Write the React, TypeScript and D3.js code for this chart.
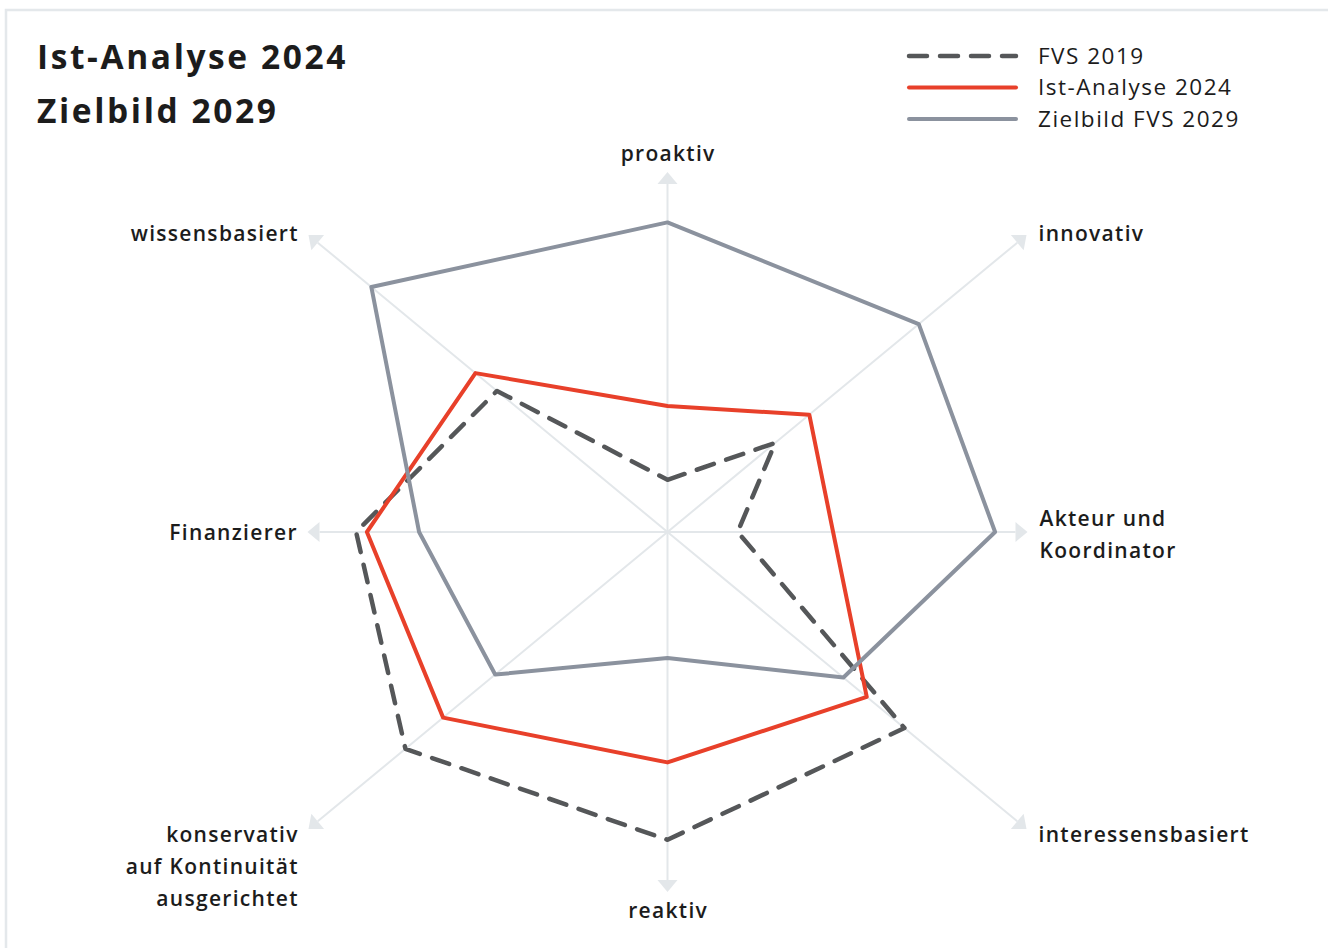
import * as d3 from "d3";

const categories = [
  "proaktiv",
  "innovativ",
  "Akteur und\nKoordinator",
  "interessensbasiert",
  "reaktiv",
  "konservativ\nauf Kontinuität\nausgerichtet",
  "Finanzierer",
  "wissensbasiert",
];

// values in % of the axis length
const fvs2019 = [14.5, 30, 19.5, 66, 85.5, 73, 86.5, 47.5];
const ist2024 = [35, 39.5, 46, 55.5, 64, 62.5, 83.5, 53.5];
const ziel2029 = [86, 70, 91, 49, 35, 48, 69, 82.5];

const seriesNames = ["FVS 2019", "Ist-Analyse 2024", "Zielbild FVS 2029"];
const titleLines = ["Ist-Analyse 2024", "Zielbild 2029"];

const W = 1328;
const H = 948;
const FONT = "'Open Sans', 'Noto Sans', sans-serif";

export default function App() {
  const cx = 667.5;
  const cy = 532;
  // the diagonals run to the corners of a 718 x 594 box, the straight axes are 360 long
  const straight = 360;
  const diag = { x: 359, y: 297 };

  const r = d3.scaleLinear().domain([0, 100]).range([0, 1]);

  const tip = (i: number) => {
    const a = (i * Math.PI) / 4;
    const s = Math.abs(Math.sin(a)) < 1e-6 ? 0 : Math.sign(Math.sin(a));
    const c = Math.abs(Math.cos(a)) < 1e-6 ? 0 : -Math.sign(Math.cos(a));
    const isDiag = i % 2 === 1;
    return {
      x: s * (isDiag ? diag.x : straight),
      y: c * (isDiag ? diag.y : straight),
    };
  };

  const pt = (v: number, i: number): [number, number] => {
    const t = tip(i);
    return [cx + t.x * r(v), cy + t.y * r(v)];
  };

  const radar = d3.line<[number, number]>().curve(d3.curveLinearClosed);
  const pathOf = (vals: number[]) => radar(vals.map((v, i) => pt(v, i))) ?? "";

  const axisColor = "#e3e7ea";
  const series = [
    { name: seriesNames[0], vals: fvs2019, color: "#555759", dash: "18 13", width: 4.5 },
    { name: seriesNames[1], vals: ist2024, color: "#e8402a", dash: undefined, width: 4 },
    { name: seriesNames[2], vals: ziel2029, color: "#8b929e", dash: undefined, width: 4 },
  ];

  const labelSpacing = 1.3;

  return (
    <svg
      width={W}
      height={H}
      style={{ position: "absolute", left: 0, top: 0, background: "#fff" }}
      fontFamily={FONT}
    >
      <rect x={6} y={10} width={W} height={H} fill="#fff" stroke="#e4e8eb" strokeWidth={2.5} />

      {/* title */}
      {titleLines.map((t, i) => (
        <text
          key={t}
          x={37}
          y={69 + i * 54}
          fontSize={33.5}
          fontWeight={700}
          letterSpacing={2.6}
          fill="#1c1c1c"
        >
          {t}
        </text>
      ))}

      {/* legend */}
      {series.map((s, i) => (
        <g key={s.name} transform={`translate(0, ${56 + i * 31.5})`}>
          <line
            x1={909}
            x2={1016}
            stroke={s.color}
            strokeWidth={s.width}
            strokeDasharray={s.dash}
            strokeLinecap="round"
          />
          <text x={1038} y={7.5} fontSize={22.5} fontWeight={500} letterSpacing={1.5} fill="#1c1c1c">
            {s.name}
          </text>
        </g>
      ))}

      {/* axes */}
      {categories.map((c, i) => {
        const t = tip(i);
        const len = Math.hypot(t.x, t.y);
        const ux = t.x / len;
        const uy = t.y / len;
        const bx = cx + t.x - ux * 12;
        const by = cy + t.y - uy * 12;
        const hw = 10;
        const tri = [
          [cx + t.x, cy + t.y],
          [bx - uy * hw, by + ux * hw],
          [bx + uy * hw, by - ux * hw],
        ]
          .map((p) => p.join(","))
          .join(" ");
        return (
          <g key={c}>
            <line x1={cx} y1={cy} x2={bx} y2={by} stroke={axisColor} strokeWidth={2} />
            <polygon points={tri} fill={axisColor} />
          </g>
        );
      })}

      {/* series */}
      {series.map((s) => (
        <path
          key={s.name}
          d={pathOf(s.vals)}
          fill="none"
          stroke={s.color}
          strokeWidth={s.width}
          strokeDasharray={s.dash}
          strokeLinecap="round"
          strokeLinejoin="round"
        />
      ))}

      {/* axis labels */}
      {categories.map((c, i) => {
        const t = tip(i);
        const lines = c.split("\n");
        const x = cx + t.x;
        const y = cy + t.y;
        let anchor: "start" | "middle" | "end" = "middle";
        let lx = x + labelSpacing / 2;
        let ly = y;
        if (t.x > 0) {
          anchor = "start";
          lx = x + 12;
        } else if (t.x < 0) {
          anchor = "end";
          lx = x - 11 + labelSpacing;
        }
        if (t.x === 0) {
          ly = t.y < 0 ? y - 11 : y + 26;
        } else if (t.y < 0) {
          ly = y + 6;
        } else if (t.y > 0) {
          ly = y + 13;
        } else {
          ly = y + 8 - (lines.length - 1) * 14;
        }
        return (
          <text
            key={c}
            x={lx}
            y={ly}
            textAnchor={anchor}
            fontSize={21}
            fontWeight={600}
            letterSpacing={labelSpacing}
            fill="#1c1c1c"
          >
            {lines.map((l, j) => (
              <tspan key={l} x={lx} dy={j === 0 ? 0 : 32}>
                {l}
              </tspan>
            ))}
          </text>
        );
      })}
    </svg>
  );
}
